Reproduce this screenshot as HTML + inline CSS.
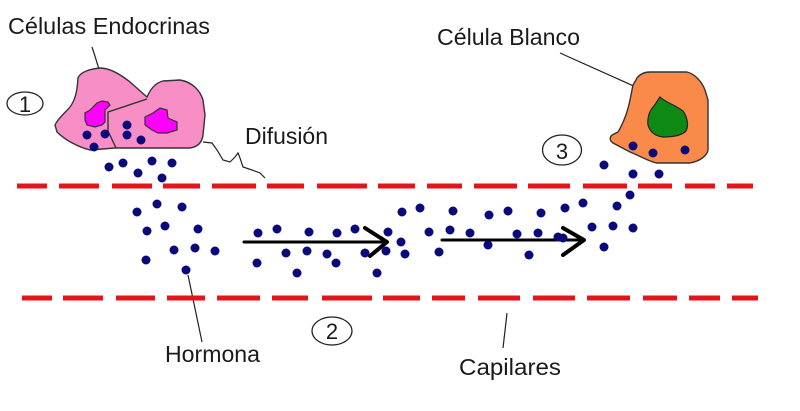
<!DOCTYPE html>
<html><head><meta charset="utf-8"><style>
html,body{margin:0;padding:0;background:#fff;}
svg{display:block;}
text{font-family:"Liberation Sans",Arial,sans-serif;fill:#1a1a1a;}
</style></head><body>
<svg width="800" height="411" viewBox="0 0 800 411" xmlns="http://www.w3.org/2000/svg">
<rect width="800" height="411" fill="#fff"/>

<!-- Labels -->
<text x="8" y="34" font-size="23" textLength="202" lengthAdjust="spacingAndGlyphs">Células Endocrinas</text>
<text x="437" y="45" font-size="23" textLength="143" lengthAdjust="spacingAndGlyphs">Célula Blanco</text>
<text x="245" y="144" font-size="23" textLength="83" lengthAdjust="spacingAndGlyphs">Difusión</text>
<text x="165" y="362" font-size="23" textLength="95" lengthAdjust="spacingAndGlyphs">Hormona</text>
<text x="459" y="375" font-size="23" textLength="102" lengthAdjust="spacingAndGlyphs">Capilares</text>

<!-- numbered ellipses -->
<ellipse cx="25" cy="103.5" rx="18" ry="11.5" fill="none" stroke="#222" stroke-width="1.3"/>
<text x="25" y="112" font-size="22" text-anchor="middle">1</text>
<ellipse cx="332" cy="331" rx="20" ry="14" fill="none" stroke="#222" stroke-width="1.3"/>
<text x="332" y="339" font-size="22" text-anchor="middle">2</text>
<ellipse cx="562" cy="150" rx="19.5" ry="15" fill="none" stroke="#222" stroke-width="1.3"/>
<text x="562" y="159" font-size="22" text-anchor="middle">3</text>

<!-- pointer lines -->
<g stroke="#222" stroke-width="1.2" fill="none">
<path d="M92,47 Q97,62 103,83"/>
<path d="M560,53 L647,92"/>
<path d="M203,142 L212,143 L217,150 L223,160 L230,162 L235,157 L238,153 L240,158 L243,167 L252,170 L260,173 L265,178"/>
<path d="M188,275 L202,342"/>
<path d="M507,313 L506,322 L503,348"/>
</g>

<!-- Endocrine cells -->
<path d="M78,78 C80,72 90,69 100,68 C110,68 120,74 130,82 L147,97 C150,90 155,83 163,81 L180,80 C192,82 200,90 203,100 L205,115 L203,135 C202,143 197,147 190,148 L115,148 L90,150 C78,147 65,140 57,132 L55,125 C58,118 66,112 70,107 C75,100 77,93 78,78 Z" fill="#f78ec6" stroke="#333" stroke-width="1.4"/>
<path d="M147,99 L108,112 L108,131 L116,148" fill="none" stroke="#333" stroke-width="1.4"/>
<path d="M85,113 L90,110 L97,103 L102,101 L108,102 L110,105 L105,110 L105,122 L102,125 L95,127 L87,125 L85,120 Z" fill="#ff00ff" stroke="#333" stroke-width="1.2"/>
<path d="M145,117 L153,113 L160,108 L167,110 L168,118 L177,122 L177,130 L167,133 L158,133 L152,130 L145,125 Z" fill="#ff00ff" stroke="#333" stroke-width="1.2"/>

<!-- Target cell -->
<path d="M637,78 C640,74 645,72 650,72 L687,72 C695,74 702,82 705,90 L708,100 L708,150 C707,156 700,161 690,163 L657,163 C650,162 640,156 630,152 L613,143 C610,141 609,138 612,135 L618,132 C624,122 628,110 630,100 L633,85 Z" fill="#fa8a4a" stroke="#333" stroke-width="1.4"/>
<path d="M660,97 C665,102 675,105 683,111 C688,118 689,128 685,132 C680,136 670,137 663,137 C655,136 650,132 648,125 C647,117 650,110 654,106 Z" fill="#0e8a14" stroke="#222" stroke-width="1.2"/>

<!-- dashed capillary walls -->
<g fill="#e5141c">
<rect x="17" y="183.5" width="30" height="5"/><rect x="59" y="183.5" width="40" height="5"/><rect x="112" y="183.5" width="40" height="5"/><rect x="163" y="183.5" width="37" height="5"/><rect x="212" y="183.5" width="44" height="5"/><rect x="267" y="183.5" width="37" height="5"/><rect x="317" y="183.5" width="50" height="5"/><rect x="378" y="183.5" width="37" height="5"/><rect x="427" y="183.5" width="35" height="5"/><rect x="474" y="183.5" width="43" height="5"/><rect x="528" y="183.5" width="42" height="5"/><rect x="583" y="183.5" width="44" height="5"/><rect x="638" y="183.5" width="34" height="5"/><rect x="685" y="183.5" width="30" height="5"/><rect x="727" y="183.5" width="26" height="5"/>
<rect x="22" y="295.5" width="30" height="5"/><rect x="63" y="295.5" width="40" height="5"/><rect x="116" y="295.5" width="39" height="5"/><rect x="167" y="295.5" width="38" height="5"/><rect x="217" y="295.5" width="43" height="5"/><rect x="272" y="295.5" width="36" height="5"/><rect x="322" y="295.5" width="50" height="5"/><rect x="383" y="295.5" width="37" height="5"/><rect x="432" y="295.5" width="33" height="5"/><rect x="478" y="295.5" width="42" height="5"/><rect x="533" y="295.5" width="42" height="5"/><rect x="587" y="295.5" width="43" height="5"/><rect x="643" y="295.5" width="34" height="5"/><rect x="689" y="295.5" width="31" height="5"/><rect x="732" y="295.5" width="26" height="5"/>
</g>

<!-- arrows -->
<g stroke="#000" fill="none" stroke-linecap="round" stroke-linejoin="round">
<path d="M244,242 L386,242" stroke-width="3"/>
<path d="M365,228 L387,242 L370,256" stroke-width="4"/>
<path d="M442,240 L584,240" stroke-width="3"/>
<path d="M563,228 L584,240 L563,255" stroke-width="4"/>
</g>

<!-- hormone dots -->
<g fill="#0a0a7a">
<circle cx="87" cy="135" r="4.5"/><circle cx="105" cy="134" r="4.5"/><circle cx="94" cy="147" r="4.5"/><circle cx="127" cy="125" r="4.5"/><circle cx="127" cy="135" r="4.5"/><circle cx="141" cy="140" r="4.5"/>
<circle cx="109" cy="167" r="4.5"/><circle cx="123" cy="163" r="4.5"/><circle cx="152" cy="161" r="4.5"/><circle cx="172" cy="163" r="4.5"/><circle cx="138" cy="173" r="4.5"/><circle cx="162" cy="178" r="4.5"/>
<circle cx="137" cy="212" r="4.5"/><circle cx="157" cy="204" r="4.5"/><circle cx="182" cy="207" r="4.5"/><circle cx="147" cy="231" r="4.5"/><circle cx="165" cy="226" r="4.5"/><circle cx="198" cy="229" r="4.5"/><circle cx="174" cy="250" r="4.5"/><circle cx="195" cy="248" r="4.5"/><circle cx="215" cy="251" r="4.5"/><circle cx="146" cy="260" r="4.5"/><circle cx="186" cy="270" r="4.5"/>
<circle cx="258" cy="233" r="4.5"/><circle cx="277" cy="229" r="4.5"/><circle cx="309" cy="232" r="4.5"/><circle cx="337" cy="233" r="4.5"/><circle cx="355" cy="229" r="4.5"/><circle cx="257" cy="263" r="4.5"/><circle cx="286" cy="253" r="4.5"/><circle cx="307" cy="251" r="4.5"/><circle cx="327" cy="254" r="4.5"/><circle cx="336" cy="263" r="4.5"/><circle cx="297" cy="273" r="4.5"/><circle cx="365" cy="253" r="4.5"/><circle cx="377" cy="273" r="4.5"/>
<circle cx="388" cy="232" r="4.5"/><circle cx="402" cy="212" r="4.5"/><circle cx="420" cy="208" r="4.5"/><circle cx="401" cy="242" r="4.5"/><circle cx="386" cy="251" r="4.5"/><circle cx="405" cy="254" r="4.5"/><circle cx="429" cy="232" r="4.5"/><circle cx="439" cy="252" r="4.5"/>
<circle cx="453" cy="211" r="4.5"/><circle cx="450" cy="230" r="4.5"/><circle cx="470" cy="233" r="4.5"/><circle cx="489" cy="215" r="4.5"/><circle cx="508" cy="211" r="4.5"/><circle cx="488" cy="245" r="4.5"/><circle cx="517" cy="234" r="4.5"/><circle cx="538" cy="233" r="4.5"/><circle cx="541" cy="213" r="4.5"/><circle cx="529" cy="255" r="4.5"/><circle cx="565" cy="208" r="4.5"/><circle cx="583" cy="203" r="4.5"/><circle cx="558" cy="237" r="4.5"/><circle cx="563" cy="238" r="4.5"/>
<circle cx="592" cy="227" r="4.5"/><circle cx="604" cy="247" r="4.5"/><circle cx="613" cy="226" r="4.5"/><circle cx="633" cy="228" r="4.5"/><circle cx="617" cy="206" r="4.5"/><circle cx="630" cy="195" r="4.5"/><circle cx="604" cy="165" r="4.5"/><circle cx="633" cy="174" r="4.5"/><circle cx="659" cy="174" r="4.5"/>
<circle cx="633" cy="146" r="4.5"/><circle cx="653" cy="153" r="4.5"/><circle cx="685" cy="150" r="4.5"/>
</g>
</svg>
</body></html>
